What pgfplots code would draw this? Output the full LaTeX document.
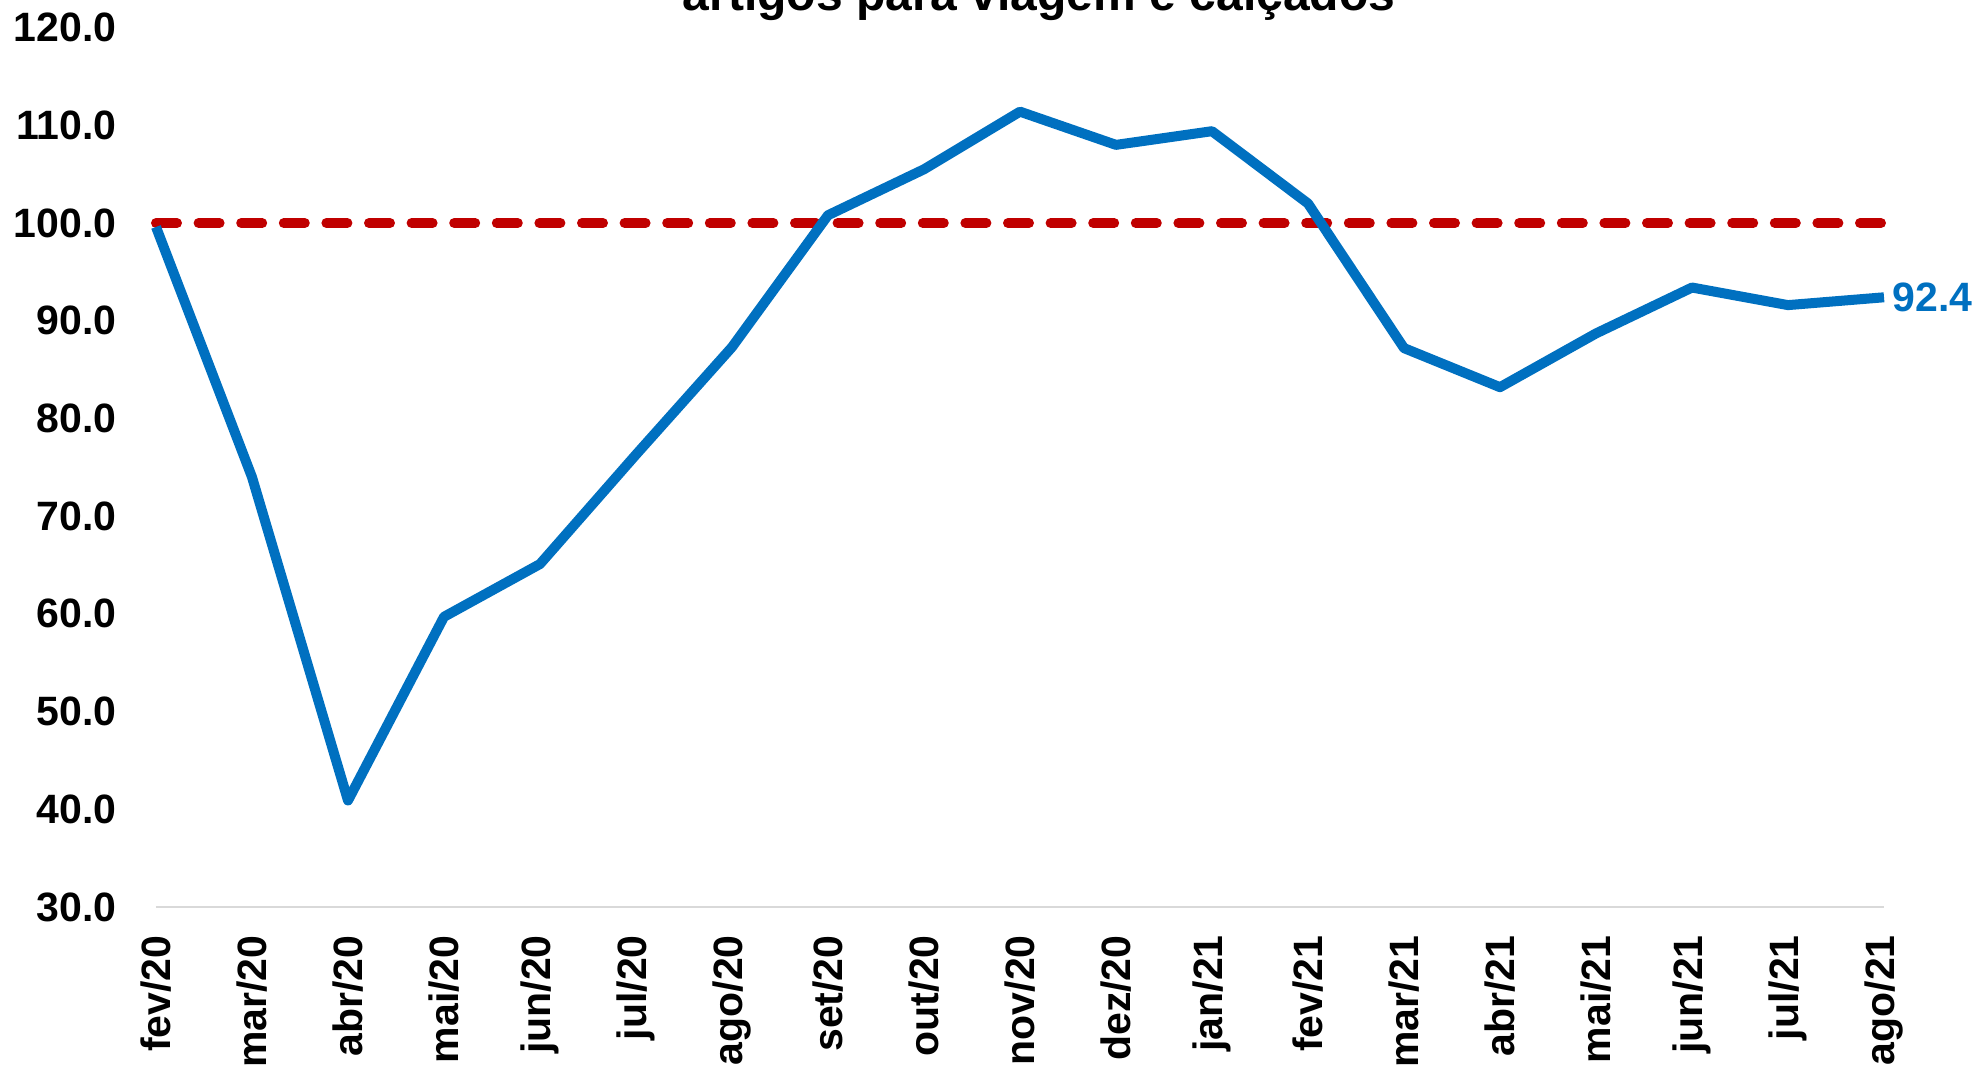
\documentclass[border=0pt]{standalone}
\usepackage{pgfplots}
\pgfplotsset{compat=1.18}
\usepackage{fontspec}
\setmainfont{Liberation Sans}
\definecolor{lineblue}{HTML}{0070C0}
\definecolor{darkred}{HTML}{C00000}
\definecolor{axisgray}{HTML}{D9D9D9}
\begin{document}
\begin{tikzpicture}
\clip (-78pt,-82.5pt) rectangle (913pt,453.5pt);
\begin{axis}[
  at={(0,0)}, anchor=south west,
  scale only axis,
  width=864pt, height=439.7pt,
  xmin=0, xmax=18, ymin=30, ymax=120,
  clip=false,
  axis x line*=bottom, axis y line*=left,
  x axis line style={draw=axisgray, line width=1.2pt, -},
  y axis line style={draw=none},
  tick style={draw=none},
  major tick length=0pt,
  xtick={0,...,18},
  xticklabels={fev/20,mar/20,abr/20,mai/20,jun/20,jul/20,ago/20,set/20,out/20,nov/20,dez/20,jan/21,fev/21,mar/21,abr/21,mai/21,jun/21,jul/21,ago/21},
  ytick={30,40,...,120},
  /pgf/number format/fixed,
  /pgf/number format/fixed zerofill,
  /pgf/number format/precision=1,
  /pgf/number format/assume math mode=true,
  xticklabel style={font=\fontsize{20.5}{24}\selectfont\bfseries, yshift=-14pt, rotate=90, anchor=east, inner sep=0pt},
  yticklabel style={font=\fontsize{20.5}{24}\selectfont\bfseries, anchor=east, inner sep=0pt, xshift=-19.5pt},
]
\addplot[darkred, line width=5pt, line cap=round, dash pattern=on 10.5pt off 10.8pt] coordinates {(0,100) (18,100)};
\addplot[lineblue, line width=5pt, line join=round, mark=none] coordinates {
(0,99.6) (1,74.0) (2,40.9) (3,59.7) (4,65.1) (5,76.3) (6,87.3) (7,100.8) (8,105.5) (9,111.4)
(10,108.0) (11,109.4) (12,102.0) (13,87.2) (14,83.2) (15,88.7) (16,93.4) (17,91.6) (18,92.4)};
\node[anchor=west, inner sep=0pt, xshift=4pt, text=lineblue, font=\fontsize{20.5}{24}\selectfont\bfseries] at (axis cs:18,92.4) {92.4};
\end{axis}
\node[anchor=base, font=\fontsize{24}{28}\selectfont\bfseries] at (441.5pt,448pt) {artigos para viagem e calçados};
\end{tikzpicture}
\end{document}
